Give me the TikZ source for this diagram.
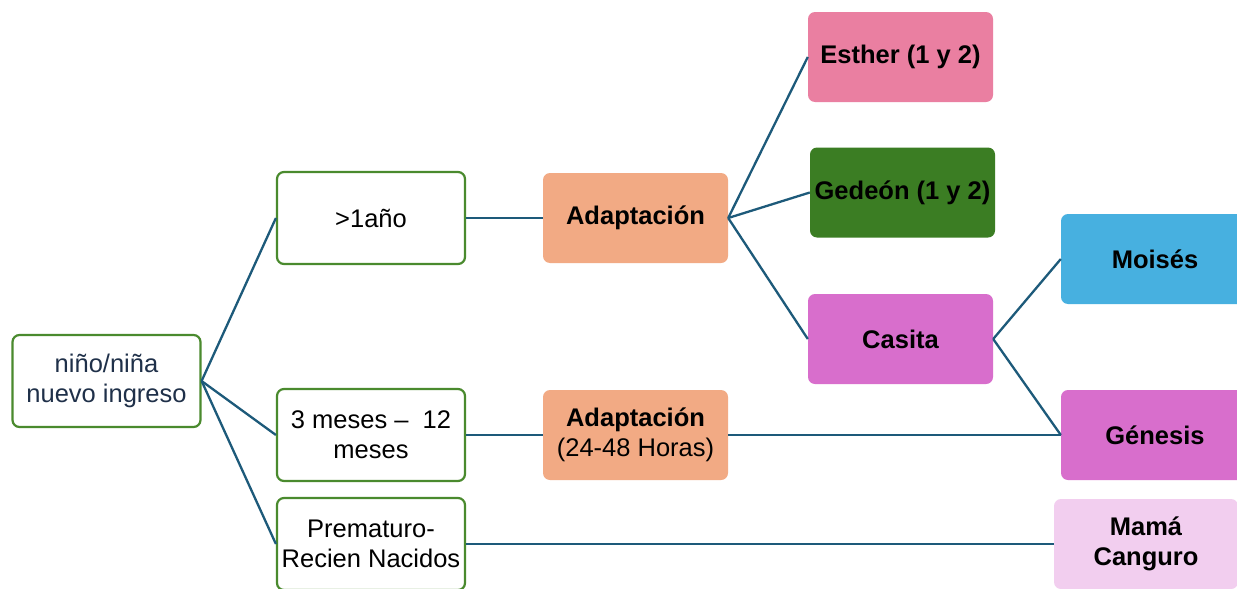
\documentclass[tikz,border=0pt]{standalone}
\usepackage{fontspec}
\setmainfont{Liberation Sans}
\definecolor{gborder}{HTML}{4A8A2E}
\definecolor{conn}{HTML}{1D5A7A}
\definecolor{navy}{HTML}{1F3049}
\definecolor{peach}{HTML}{F2AA84}
\definecolor{pinkc}{HTML}{EA7FA1}
\definecolor{greenc}{HTML}{3B7D23}
\definecolor{magc}{HTML}{D86ECC}
\definecolor{bluec}{HTML}{47B0E0}
\definecolor{lightp}{HTML}{F2CEEF}
\tikzset{
  base/.style={rounded corners=7pt, align=center, inner sep=2pt, font=\fontsize{25.5}{30}\selectfont},
  outl/.style={base, draw=gborder, line width=2.2pt, fill=white, minimum width=188pt, minimum height=92pt},
  filled/.style={base, minimum width=185pt, minimum height=90pt, font=\fontsize{25.5}{30}\selectfont\bfseries},
  conline/.style={draw=conn, line width=2.3pt}
}
\begin{document}
\begin{tikzpicture}[x=1pt,y=-1pt]
\useasboundingbox (0,0) rectangle (1237,589);
\clip (0,0) rectangle (1237,589);
\fill[white] (0,0) rectangle (1237,589);
\node[outl, text=navy] (n0) at (106.5,381) {niño/niña\\nuevo ingreso};
\node[outl] (a1) at (371,218) {>1año};
\node[outl] (a2) at (371,435) {3 meses –\ \ 12\\meses};
\node[outl] (a3) at (371,544) {Prematuro-\\Recien Nacidos};
\node[filled, fill=peach] (ad1) at (635.5,218) {Adaptación};
\node[filled, fill=peach] (ad2) at (635.5,435) {Adaptación\\{\mdseries(24-48 Horas)}};
\node[filled, fill=pinkc] (es) at (900.5,57) {Esther (1 y 2)};
\node[filled, fill=greenc] (ge) at (902.5,192.5) {Gedeón (1 y 2)};
\node[filled, fill=magc] (ca) at (900.5,339) {Casita};
\node[filled, fill=bluec, minimum width=188pt] (mo) at (1155,259) {Moisés};
\node[filled, fill=magc, minimum width=188pt] (gn) at (1155,435) {Génesis};
\node[filled, fill=lightp, minimum width=184pt] (mc) at (1146,544) {Mamá\\Canguro};
\draw[conline] (n0.east) -- (a1.west);
\draw[conline] (n0.east) -- (a2.west);
\draw[conline] (n0.east) -- (a3.west);
\draw[conline] (a1.east) -- (ad1.west);
\draw[conline] (a2.east) -- (ad2.west);
\draw[conline] (a3.east) -- (mc.west);
\draw[conline] (ad1.east) -- (es.west);
\draw[conline] (ad1.east) -- (ge.west);
\draw[conline] (ad1.east) -- (ca.west);
\draw[conline] (ca.east) -- (mo.west);
\draw[conline] (ca.east) -- (gn.west);
\draw[conline] (ad2.east) -- (gn.west);
\end{tikzpicture}
\end{document}
